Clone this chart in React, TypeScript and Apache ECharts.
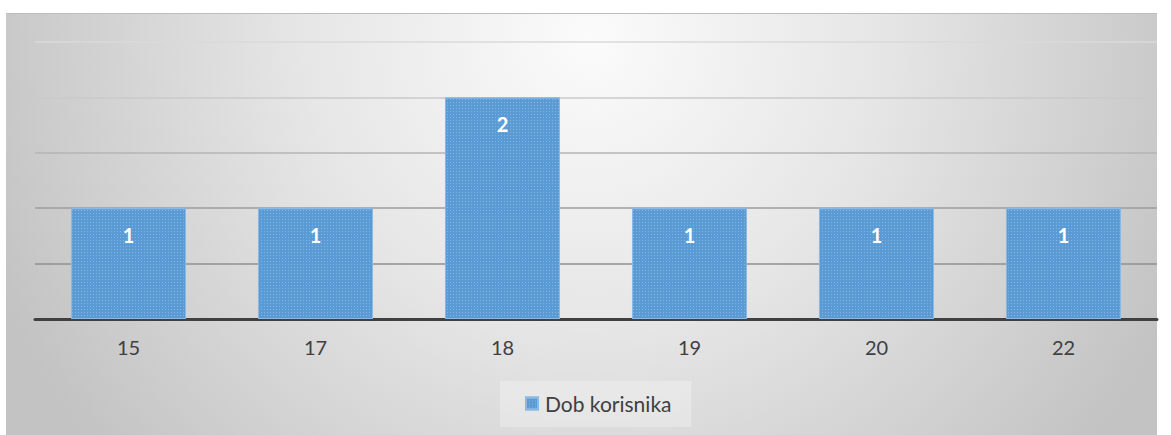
import React, { useEffect, useRef } from "react";
import * as echarts from "echarts";

const categories = ["15", "17", "18", "19", "20", "22"];
const values = [1, 1, 2, 1, 1, 1];
const seriesName = "Dob korisnika";
const yMin = 0;
const yMax = 2.5;
const yInterval = 0.5;

export default function App() {
  const ref = useRef<HTMLDivElement>(null);
  useEffect(() => {
    if (!ref.current) return;
    const chart = echarts.init(ref.current, undefined, { renderer: "svg" });
    const font = "Lato, 'Open Sans', sans-serif";
    chart.setOption({
      animation: false,
      graphic: [
        {
          type: "rect",
          z: -10,
          silent: true,
          shape: { x: 6, y: 13, width: 1151, height: 430 },
          style: {
            fill: {
              type: "radial",
              x: 590,
              y: 40,
              r: 640,
              global: true,
              colorStops: [
                { offset: 0, color: "#fbfbfb" },
                { offset: 0.45, color: "#e6e6e6" },
                { offset: 1, color: "#c3c3c3" },
              ],
            },
          },
        },
        {
          type: "line",
          z: -9,
          silent: true,
          shape: { x1: 6, y1: 13.5, x2: 1157, y2: 13.5 },
          style: { stroke: "#bdbdbd", lineWidth: 1 },
        },
      ],
      grid: { left: 35, right: 14, top: 42, bottom: 116, containLabel: false },
      legend: {
        bottom: 8,
        left: 500,
        data: [seriesName],
        icon: "rect",
        itemWidth: 12,
        itemHeight: 12,
        itemGap: 10,
        padding: [12, 20, 13, 25],
        backgroundColor: "rgba(255,255,255,0.28)",
        textStyle: { color: "#404040", fontSize: 21, fontFamily: font, padding: [0, 0, 0, 2] },
      },
      xAxis: {
        type: "category",
        data: categories,
        axisLine: { lineStyle: { color: "#404040", width: 3 } },
        axisTick: { show: false },
        axisLabel: { color: "#404040", fontSize: 20, fontFamily: font, margin: 18 },
      },
      yAxis: {
        type: "value",
        min: yMin,
        max: yMax,
        interval: yInterval,
        axisLabel: { show: false },
        axisLine: { show: false },
        axisTick: { show: false },
        splitLine: {
          lineStyle: {
            color: ["#909090", "#8f8f8f", "#9c9c9c", "#b4b4b4", "#cacaca", "#dadada"],
            width: 1.5,
          },
        },
      },
      series: [
        {
          name: seriesName,
          type: "bar",
          data: values,
          barCategoryGap: "38.5%",
          itemStyle: {
            color: "#5b9bd5",
            borderColor: "#8ab9e4",
            borderWidth: 1,
            decal: {
              symbol: "rect",
              symbolSize: 1,
              color: "rgba(255,255,255,0.25)",
              dashArrayX: [1, 2],
              dashArrayY: [1, 2],
              rotation: 0,
            },
          },
          label: {
            show: true,
            position: "insideTop",
            distance: 17,
            color: "#ffffff",
            fontWeight: "bold",
            fontSize: 20,
            fontFamily: font,
          },
        },
      ],
    });
    return () => chart.dispose();
  }, []);
  return (
    <div
      ref={ref}
      style={{ position: "absolute", left: 0, top: 0, width: 1171, height: 435 }}
    />
  );
}
